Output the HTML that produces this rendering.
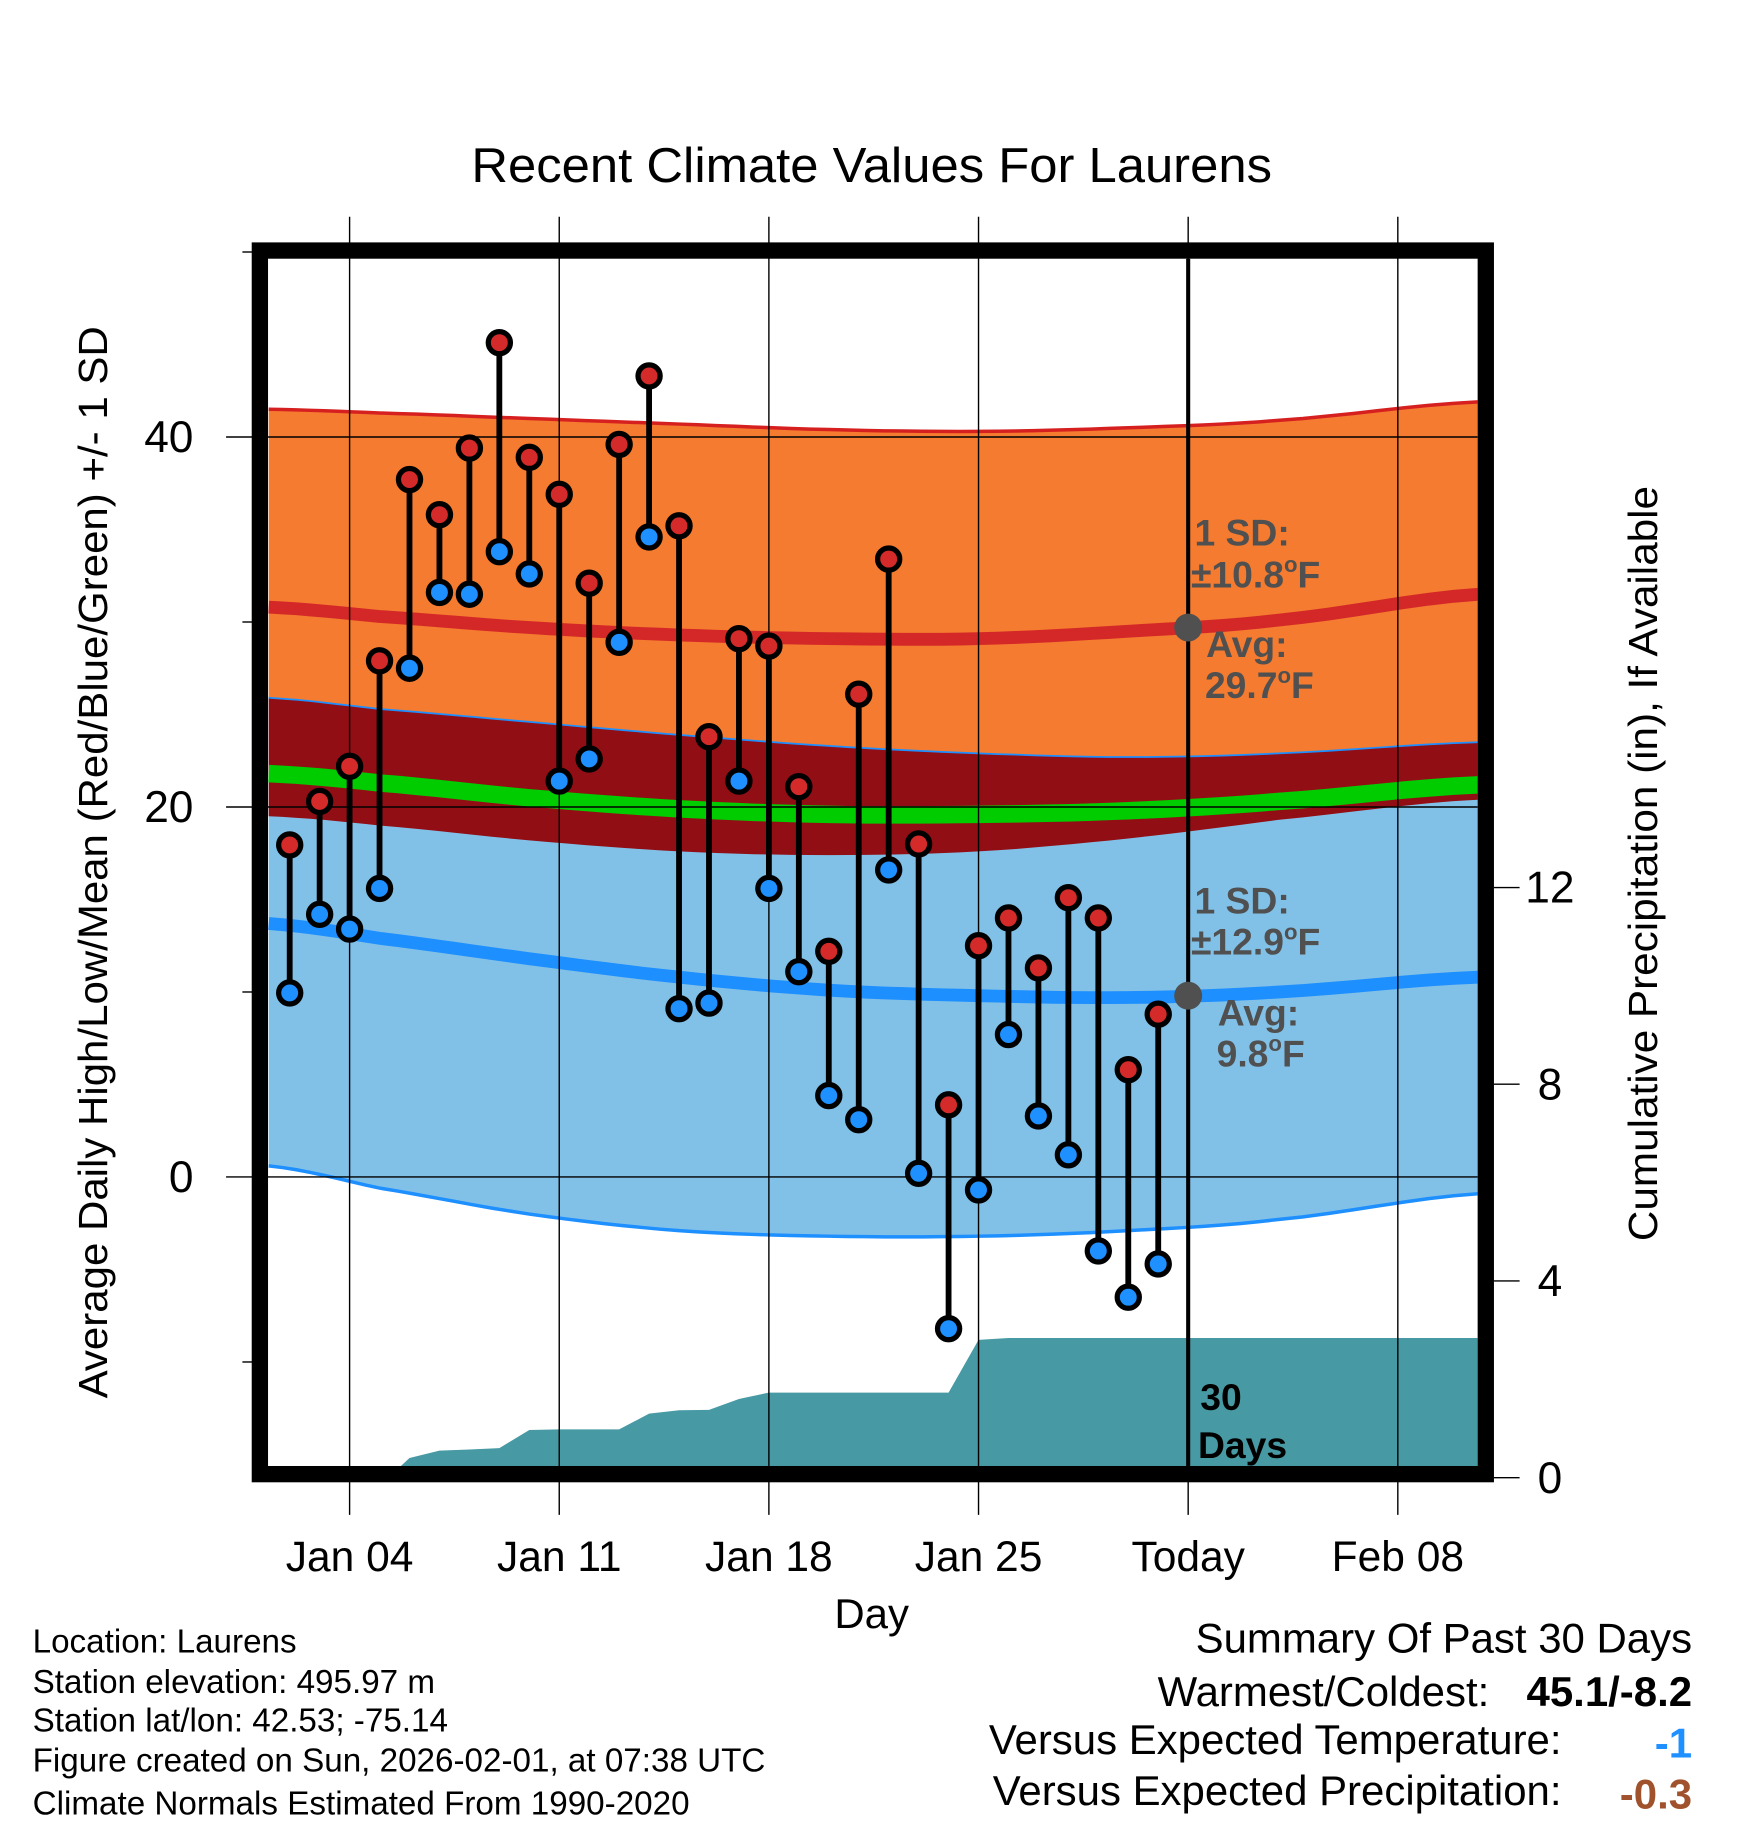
<!DOCTYPE html>
<html><head><meta charset="utf-8"><style>
html,body{margin:0;padding:0;background:#fff;}
svg{display:block;font-family:"Liberation Sans",Arial,sans-serif;}
</style></head><body>
<svg id="chart" width="1748" height="1828" viewBox="0 0 1500 1568.65" xmlns="http://www.w3.org/2000/svg">
<defs><clipPath id="pc"><rect x="230" y="222" width="1038" height="1036"/></clipPath></defs>
<g id="bands" clip-path="url(#pc)"></g>
<g id="precip" clip-path="url(#pc)"></g>
<g id="grid"></g>
<g id="marks"></g>
<g id="annot"></g>
<rect x="223" y="215" width="1052" height="1050" fill="none" stroke="#000" stroke-width="14"/>
<text x="748" y="156" font-size="42" text-anchor="middle" textLength="687" lengthAdjust="spacingAndGlyphs">Recent Climate Values For Laurens</text>
<text x="748" y="1397" font-size="36" text-anchor="middle">Day</text>
<text transform="translate(92,740) rotate(-90)" font-size="35" text-anchor="middle" textLength="920" lengthAdjust="spacingAndGlyphs">Average Daily High/Low/Mean (Red/Blue/Green) +/- 1 SD</text>
<text transform="translate(1422,741) rotate(-90)" font-size="35" text-anchor="middle" textLength="648" lengthAdjust="spacingAndGlyphs">Cumulative Precipitation (in), If Available</text>
<g font-size="28.5">
<text x="28" y="1418">Location: Laurens</text>
<text x="28" y="1453">Station elevation: 495.97 m</text>
<text x="28" y="1486">Station lat/lon: 42.53; -75.14</text>
<text x="28" y="1520">Figure created on Sun, 2026-02-01, at 07:38 UTC</text>
<text x="28" y="1557">Climate Normals Estimated From 1990-2020</text>
</g>
<g font-size="36" text-anchor="end">
<text x="1452" y="1418">Summary Of Past 30 Days</text>
<text x="1278" y="1464">Warmest/Coldest:</text>
<text x="1452" y="1464" font-weight="bold">45.1/-8.2</text>
<text x="1340" y="1505">Versus Expected Temperature:</text>
<text x="1452" y="1508" font-weight="bold" fill="#1e90ff">-1</text>
<text x="1340" y="1549">Versus Expected Precipitation:</text>
<text x="1452" y="1552" font-weight="bold" fill="#a0522d">-0.3</text>
</g>
</svg>
<script>
const days=[2,3,4,5,6,7,8,9,10,11,12,13,14,15,16,17,18,19,20,21,22,23,24,25,26,27,28,29,30,31];
const highs=[17.95,20.3,22.2,27.9,37.7,35.8,39.4,45.1,38.9,36.9,32.1,39.6,43.3,35.2,23.8,29.1,28.7,21.1,12.2,26.1,33.4,18.0,3.9,12.5,14.0,11.3,15.1,14.0,5.8,8.8];
const lows=[9.95,14.2,13.4,15.6,27.5,31.6,31.5,33.8,32.6,21.4,22.6,28.9,34.6,9.1,9.4,21.4,15.6,11.1,4.4,3.1,16.6,0.2,-8.2,-0.7,7.7,3.3,1.2,-4.0,-6.5,-4.7];
const normDays=[1.3,5,10,15,20,25,30,35,41.7];
const highUpper=[41.5,41.3,41.0,40.7,40.4,40.3,40.5,40.9,41.9];
const highMean=[30.8,30.3,29.7,29.3,29.1,29.1,29.5,30.1,31.5];
const highLower=[19.5,19.0,18.2,17.6,17.4,17.6,18.3,19.3,20.4];
const lowUpper=[25.9,25.3,24.6,23.9,23.3,22.9,22.7,22.9,23.5];
const lowMean=[13.7,12.9,11.8,10.8,10.1,9.8,9.7,10.0,10.8];
const lowLower=[0.6,-0.6,-2.0,-2.9,-3.2,-3.2,-2.9,-2.3,-0.9];
const avgMean=[21.8,21.3,20.5,19.9,19.6,19.6,19.8,20.3,21.2];
const precipDays=[5.3,6,7,8,9,10,11,12,13,14,15,16,17,18,19,20,21,22,23,24,25,26,27,28,29,30,31,41.7];
const precipCum=[0,0.4,0.55,0.57,0.6,0.97,0.98,0.98,0.98,1.3,1.37,1.38,1.6,1.73,1.73,1.73,1.73,1.73,1.73,1.73,2.8,2.84,2.84,2.84,2.84,2.84,2.84,2.84];
const yTicks=[0,20,40];
const y2Ticks=[0,4,8,12];
const xTickDays=[4,11,18,25,32,39];
const xTickLabels=["Jan 04","Jan 11","Jan 18","Jan 25","Today","Feb 08"];

const NS="http://www.w3.org/2000/svg";
const X=d=>300+(d-4)*25.7;
const Y=t=>1010-t*15.875;
const Y2=p=>1268-p*42.2;
function mk(tag,attrs,parent){const e=document.createElementNS(NS,tag);for(const k in attrs)e.setAttribute(k,attrs[k]);parent.appendChild(e);return e;}
function pts(ds,vs,f){return ds.map((d,i)=>X(d).toFixed(1)+","+f(vs[i]).toFixed(1));}
function smooth(vs){
  const out=[],od=[];for(let i=0;i<normDays.length-1;i++){for(let k=0;k<8;k++){const t=k/8;const d=normDays[i]+(normDays[i+1]-normDays[i])*t;od.push(d);const a=vs[Math.max(0,i-1)],b=vs[i],c=vs[i+1],e=vs[Math.min(vs.length-1,i+2)];
  out.push(0.5*((2*b)+(-a+c)*t+(2*a-5*b+4*c-e)*t*t+(-a+3*b-3*c+e)*t*t*t));}}
  od.push(normDays[normDays.length-1]);out.push(vs[vs.length-1]);return [od,out];}
const bands=document.getElementById('bands');
function band(up,lo,fill,name){const [d1,u]=smooth(up),[d2,l]=smooth(lo);
  const p=pts(d1,u,Y).concat(pts(d2,l,Y).reverse());
  const e=mk('polygon',{points:p.join(' '),fill:fill},bands);
  
  }
function line(vs,color,w,name){const [d,v]=smooth(vs);const e=mk('polyline',{points:pts(d,v,Y).join(' '),fill:'none',stroke:color,'stroke-width':w},bands);
  
  }
band(highUpper,highLower,'#f47b2f','high-sd-band');
band(lowUpper,lowLower,'#82c1e7','low-sd-band');
band(lowUpper,highLower,'#920e15','overlap-band');
line(highUpper,'#d62020',3,'high-upper-line');
line(lowUpper,'#1e8fff',1.5,'low-upper-line');
line(lowLower,'#1e8fff',3,'low-lower-line');
line(avgMean,'#00cc00',15,'mean-line');
line(highMean,'#d42828',11,'high-mean-line');
line(lowMean,'#1e8fff',11,'low-mean-line');

const pr=document.getElementById('precip');
const pp=pts(precipDays,precipCum,Y2);pp.push(X(41.7)+",1270");pp.push(X(5.3)+",1270");
const pa=mk('polygon',{points:pp.join(' '),fill:'#4799a3'},pr);



const g=document.getElementById('grid');
xTickDays.forEach((d,i)=>{const l=mk('line',{x1:X(d),x2:X(d),y1:186,y2:1300,stroke:'#000','stroke-width':1.2},g);
  
  
  const t=mk('text',{x:X(d),y:1348,'font-size':36.5,'text-anchor':'middle'},g);t.textContent=xTickLabels[i];
  
  });
yTicks.forEach(v=>{const l=mk('line',{x1:194,x2:1268,y1:Y(v),y2:Y(v),stroke:'#000','stroke-width':1.2},g);
  
  
  const t=mk('text',{x:166,y:Y(v)+13,'font-size':38,'text-anchor':'end'},g);t.textContent=v;
  
  });
[50,30,10,-10].forEach(v=>{const l=mk('line',{x1:208,x2:218,y1:Y(v),y2:Y(v),stroke:'#000','stroke-width':1.2},g);
  
  });
y2Ticks.forEach(v=>{const l=mk('line',{x1:1282,x2:1304,y1:Y2(v),y2:Y2(v),stroke:'#000','stroke-width':1.2},g);
  
  
  const t=mk('text',{x:1330,y:Y2(v)+13,'font-size':38,'text-anchor':'middle'},g);t.textContent=v;
  
  });
const tl=mk('line',{x1:X(32),x2:X(32),y1:222,y2:1262,stroke:'#000','stroke-width':3.5},g);



const m=document.getElementById('marks');
days.forEach((d,i)=>{const x=X(d);
  const s=mk('line',{x1:x,x2:x,y1:Y(highs[i]),y2:Y(lows[i]),stroke:'#000','stroke-width':5},m);
  
  });
days.forEach((d,i)=>{const x=X(d);
  const h=mk('circle',{cx:x,cy:Y(highs[i]),r:9.5,fill:'#d42a2a',stroke:'#000','stroke-width':4.5},m);
  
  
  const l=mk('circle',{cx:x,cy:Y(lows[i]),r:9.5,fill:'#1e90ff',stroke:'#000','stroke-width':4.5},m);
  
  });

const a=document.getElementById('annot');
function txt(x,y,s,name,extra){const t=mk('text',Object.assign({x:x,y:y,'font-size':32,'font-weight':'bold',fill:'#505050'},extra||{}),a);t.innerHTML=s;
  
  }
const hm=mk('circle',{cx:X(32),cy:Y(29.7),r:12,fill:'#505050'},a);


const lm=mk('circle',{cx:X(32),cy:Y(9.8),r:12,fill:'#505050'},a);


txt(1025,468,'1 SD:','high-sd-label');
txt(1022,504,'±10.8<tspan font-size="19" dy="-13">o</tspan><tspan dy="13">F</tspan>','high-sd-value');
txt(1035,564,'Avg:','high-avg-label');
txt(1034,599,'29.7<tspan font-size="19" dy="-13">o</tspan><tspan dy="13">F</tspan>','high-avg-value');
txt(1025,784,'1 SD:','low-sd-label');
txt(1022,819,'±12.9<tspan font-size="19" dy="-13">o</tspan><tspan dy="13">F</tspan>','low-sd-value');
txt(1045,880,'Avg:','low-avg-label');
txt(1044,915,'9.8<tspan font-size="19" dy="-13">o</tspan><tspan dy="13">F</tspan>','low-avg-value');
txt(1030,1210,'30','days-label-1',{fill:'#000'});
txt(1028,1251,'Days','days-label-2',{fill:'#000'});
</script>
</body></html>
